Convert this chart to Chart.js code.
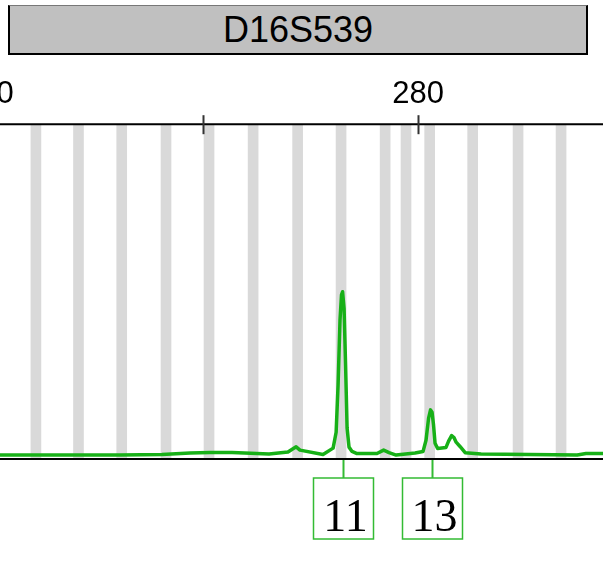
<!DOCTYPE html>
<html>
<head>
<meta charset="utf-8">
<script src="https://cdn.jsdelivr.net/npm/chart.js@4/dist/chart.umd.min.js"></script>
<style>
  body { margin: 0; width: 603px; height: 569px; overflow: hidden; position: relative; background: #fff; }
  #wrap { position: absolute; left: -60px; top: 0; width: 663px; height: 569px; }
  #marker {
    position: absolute; left: 8px; top: 5px; width: 580px; height: 50px;
    box-sizing: border-box; background: #c0c0c0;
    border: 2.5px solid #000; border-top: 1px solid #777;
    font: 36px "Liberation Sans", Arial, sans-serif; color: #000;
    text-align: center; line-height: 47px;
  }
</style>
</head>
<body>
<div id="wrap"><canvas id="myChart" width="663" height="569"></canvas></div>
<div id="marker">D16S539</div>
<script>
// marker name and size axis
const markerName = "D16S539";
const tickValues = [260, 270, 280];
const tickLabels = ["260", "", "280"];

// bins (grey bars), size in bp
const binSizes = [262.23, 264.21, 266.22, 268.28, 270.28, 272.33, 274.40, 276.42,
                  278.47, 279.44, 280.54, 282.54, 284.65, 286.65];

// called alleles
const alleleNames = ["11", "13"];
const alleleSizes = [276.51, 280.67];

// green trace (size, rfu)
const traceX = [257.5, 260.56, 262.70, 266.14, 268.09, 269.40, 270.33, 271.35, 273.07, 273.95,
                274.33, 274.51, 275.58, 276.05, 276.19, 276.28, 276.37, 276.44, 276.49, 276.56,
                276.63, 276.70, 276.79, 276.93, 277.16, 278.09, 278.40, 278.65, 278.98, 279.86,
                280.23, 280.37, 280.49, 280.58, 280.65, 280.72, 280.79, 280.91, 281.30, 281.42,
                281.56, 281.67, 281.77, 281.95, 282.19, 282.93, 287.40, 287.81, 289.0];
const traceY = [-3, -3, -3, -3, -1.5, 3, 5, 4.5, 0, 6,
                22, 12, -1.5, 18, 66, 208, 405, 483, 492, 441,
                269, 79, 21, 8, 1.5, 1.5, 12, 4.5, -3, 3,
                7.5, 42, 109, 134, 127, 88, 33, 17, 20, 39,
                56, 50, 36, 23, 4, 0, -3, 1.5, 1.5];

const yMin = -15, yMax = 1000;
const traceColor = '#17b017';
const boxColor = '#33bb33';

const ctx = document.getElementById('myChart').getContext('2d');

const overlay = {
    id: 'overlay',
    afterDraw(chart) {
        const c = chart.ctx;
        const area = chart.chartArea;
        const xs = chart.scales.x;
        c.save();
        // top axis line
        c.strokeStyle = '#000';
        c.lineWidth = 2;
        c.beginPath();
        c.moveTo(0, area.top);
        c.lineTo(chart.width, area.top);
        c.stroke();
        // tick marks crossing the axis
        c.strokeStyle = '#333';
        for (let i = 0; i < tickValues.length; i++) {
            const px = Math.round(xs.getPixelForValue(tickValues[i])) + 0.5;
            c.beginPath();
            c.moveTo(px, area.top - 9);
            c.lineTo(px, area.top + 10);
            c.stroke();
        }
        // baseline
        c.strokeStyle = '#000';
        c.lineWidth = 2;
        c.beginPath();
        c.moveTo(0, area.bottom);
        c.lineTo(chart.width, area.bottom);
        c.stroke();
        // allele labels
        for (let i = 0; i < alleleNames.length; i++) {
            const px = Math.round(xs.getPixelForValue(alleleSizes[i])) + 0.5;
            c.strokeStyle = boxColor;
            c.lineWidth = 2;
            c.beginPath();
            c.moveTo(px, area.bottom + 1);
            c.lineTo(px, area.bottom + 19);
            c.stroke();
            c.lineWidth = 1.5;
            c.fillStyle = '#fff';
            c.fillRect(px - 30, area.bottom + 19, 60, 61);
            c.strokeRect(px - 30, area.bottom + 19, 60, 61);
            c.fillStyle = '#000';
            c.font = '46px "Liberation Serif", "Times New Roman", serif';
            c.textAlign = 'center';
            c.textBaseline = 'alphabetic';
            c.fillText(alleleNames[i], px + 2, area.bottom + 72);
        }
        c.restore();
    }
};

const config = {
    data: {
        datasets: [
            {
                type: 'line',
                label: markerName,
                data: traceX.map((x, i) => ({x: x, y: traceY[i]})),
                borderColor: traceColor,
                borderWidth: 3.5,
                borderJoinStyle: 'round',
                pointRadius: 0,
                tension: 0,
                order: 1
            },
            {
                type: 'bar',
                label: 'bins',
                data: binSizes.map(s => ({x: s, y: [yMin, yMax]})),
                backgroundColor: '#d9d9d9',
                barThickness: 10,
                order: 2
            }
        ]
    },
    options: {
        responsive: false,
        animation: false,
        devicePixelRatio: 1,
        layout: { padding: { top: 65, bottom: 110, left: 0, right: 0 } },
        plugins: { legend: { display: false }, tooltip: { enabled: false } },
        scales: {
            x: {
                type: 'linear',
                position: 'top',
                min: 257.77,
                max: 288.6,
                offset: false,
                afterBuildTicks: (scale) => { scale.ticks = tickValues.map(v => ({value: v})); },
                ticks: {
                    autoSkip: false,
                    maxRotation: 0,
                    padding: 11,
                    color: '#000',
                    font: { family: '"Liberation Sans", Arial, sans-serif', size: 31 },
                    callback: (v) => tickLabels[tickValues.indexOf(v)]
                },
                grid: { display: false, drawTicks: false },
                border: { display: false }
            },
            y: {
                display: false,
                min: yMin,
                max: yMax
            }
        }
    },
    plugins: [overlay]
};

const myChart = new Chart(ctx, config);
</script>
</body>
</html>
